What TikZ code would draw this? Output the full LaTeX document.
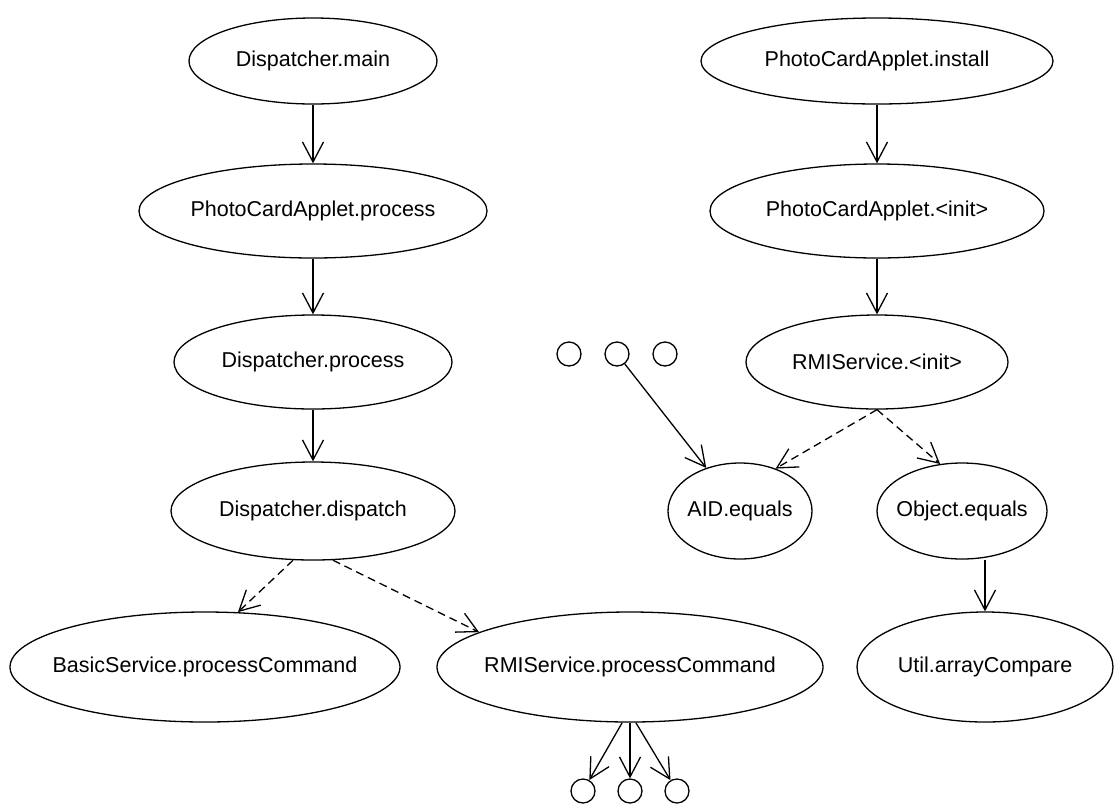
\documentclass[tikz,border=0pt]{standalone}
\usepackage{fontspec}
\setmainfont{Liberation Sans}
\usetikzlibrary{shapes.geometric,arrows.meta}
% zero-width label so that the ellipse size is set by minimum width/height only
\newcommand{\fnname}[1]{\makebox[0pt]{#1}}
\begin{document}
\begin{tikzpicture}[x=1pt,y=-1pt,
  fn/.style={draw,ellipse,line width=1.3pt,inner sep=0pt,font=\fontsize{21.5}{24}\selectfont},
  stub/.style={draw,circle,line width=1.3pt,minimum size=24pt,inner sep=0pt},
  call/.style={line width=1.3pt,-{Straight Barb[length=20pt,width=21pt,line width=1.3pt]}},
  maycall/.style={call,dash pattern=on 8pt off 5pt}]
\useasboundingbox (0,0) rectangle (1118,804);
% left call chain
\node[fn,minimum width=248pt,minimum height=86pt] (m)  at (313,61)  {\fnname{Dispatcher.main}};
\node[fn,minimum width=348pt,minimum height=94pt] (pp) at (313,211) {\fnname{PhotoCardApplet.process}};
\node[fn,minimum width=278pt,minimum height=94pt] (dp) at (313,362) {\fnname{Dispatcher.process}};
\node[fn,minimum width=284pt,minimum height=98pt] (dd) at (313,511) {\fnname{Dispatcher.dispatch}};
\node[fn,minimum width=390pt,minimum height=110pt] (bs) at (205,667) {\fnname{BasicService.processCommand}};
\node[fn,minimum width=386pt,minimum height=110pt] (rp) at (630,667) {\fnname{RMIService.processCommand}};
% right call chain
\node[fn,minimum width=352pt,minimum height=86pt] (pi) at (877,61)  {\fnname{PhotoCardApplet.install}};
\node[fn,minimum width=334pt,minimum height=94pt] (pn) at (877,211) {\fnname{PhotoCardApplet.<init>}};
\node[fn,minimum width=262pt,minimum height=94pt] (rn) at (877,362) {\fnname{RMIService.<init>}};
\node[fn,minimum width=144pt,minimum height=96pt] (aid) at (740,511) {\fnname{AID.equals}};
\node[fn,minimum width=170pt,minimum height=96pt] (obj) at (962,511) {\fnname{Object.equals}};
\node[fn,minimum width=256pt,minimum height=110pt] (ua) at (985,667) {\fnname{Util.arrayCompare}};
% unnamed callers and callees
\node[stub] (c1) at (569,354) {};
\node[stub] (c2) at (617,354) {};
\node[stub] (c3) at (665,354) {};
\node[stub] (e1) at (583,791) {};
\node[stub] (e2) at (630,791) {};
\node[stub] (e3) at (677,791) {};
% edges
\draw[call] (m) -- (pp);
\draw[call] (pp) -- (dp);
\draw[call] (dp) -- (dd);
\draw[maycall] (dd.-112) -- (bs.59);
\draw[maycall] (dd.-68) -- (rp.167);
\draw[call] (pi) -- (pn);
\draw[call] (pn) -- (rn);
\draw[maycall] (rn.south) -- (aid.50);
\draw[maycall] (rn.south) -- (obj.115);
\draw[call] (obj.south -| ua.north) -- (ua);
\draw[call] (c2) -- (aid);
\draw[call] (rp.-98) -- (e1);
\draw[call] (rp.south) -- (e2);
\draw[call] (rp.-84) -- (e3);
\end{tikzpicture}
\end{document}
